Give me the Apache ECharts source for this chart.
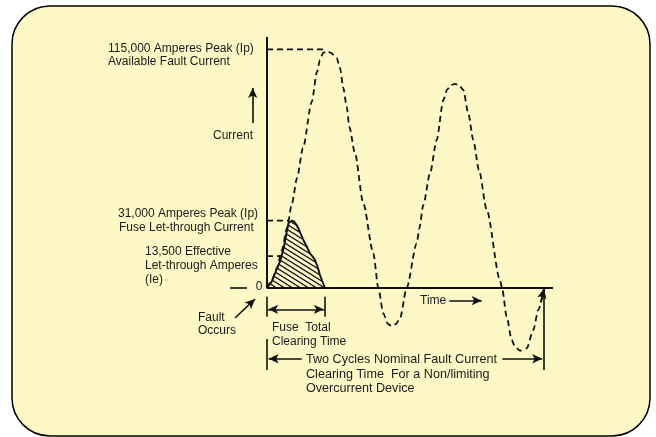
<!DOCTYPE html>
<html><head><meta charset="utf-8">
<script src="https://cdn.jsdelivr.net/npm/echarts@6/dist/echarts.min.js"></script>
<style>html,body{margin:0;padding:0;background:#fff}#c{width:656px;height:437px}</style>
</head><body><div id="c"></div>
<script>
// ---- data (time in ms, current in amperes) ----
const waveTime = [0,0.60,1.20,1.80,2.41,3.01,3.61,4.33,5.38,6.01,6.37,6.74,7.22,7.70,8.38,8.78,9.18,9.59,9.90,10.58,11.58,12.79,13.39,13.99,14.55,15.00,15.52,16.00,16.80,18.01,18.32,18.80,19.61,20.41,21.21,21.69,22.13,22.61,23.09,23.61,24.21,24.81,25.50,26.43,28.02,28.27,28.83,29.43,29.83,30.43,31.24,32.03,32.63,33.32];
const waveCurrent = [0,3860,9640,18320,28920,40980,53030,67490,89660,104130,109910,113290,114250,113290,110900,106060,96410,87400,77760,64930,40830,16730,0,-12200,-17350,-18320,-17350,-14610,0,21550,28780,40010,55290,71350,90630,95790,97860,98340,97860,95450,84220,71350,56880,37600,3860,0,-13840,-25070,-28300,-30230,-29070,-20250,-10610,0];
const letThroughTime = [0,0.57,1.08,1.56,2.04,2.37,2.59,2.97,3.25,3.57,3.97,4.37,4.81,5.17,5.53,5.77,6.13,6.37,6.74,6.98];
const letThroughCurrent = [0,3040,8200,12680,19760,27140,31330,32440,32060,30370,27000,23140,19770,16730,14940,13500,9640,6270,2410,0];
const availablePeak = 115000, availablePeakTime = 6.98;
const letThroughPeak = 32440, letThroughPeakTime = 2.53;
const effectiveCurrent = 15400, effectiveTime = 1.56;
const clearingTime = 6.98, twoCyclesTime = 33.32;
const timeMin = -6, timeMax = 34.4, currentMin = -42000, currentMax = 121000;
const labels = {
  available: ['115,000 Amperes Peak (Ip)', 'Available Fault Current'],
  current: 'Current',
  letThrough: ['31,000 Amperes Peak (Ip)', 'Fuse Let-through Current'],
  effective: ['13,500 Effective', 'Let-through Amperes', '(Ie)'],
  zero: '0',
  fault: ['Fault', 'Occurs'],
  fuse: ['Fuse  Total', 'Clearing Time'],
  time: 'Time',
  cycles: ['Two Cycles Nominal Fault Current', 'Clearing Time  For a Non/limiting', 'Overcurrent Device']
};
// annotation segments in data units [time, current]
const currentArrow = [[-1.72, 79540], [-1.72, 96410]];
const zeroDash = [[-4.45, 0], [-2.41, 0]];
const faultArrow = [[-3.85, -14460], [-1.44, -5300]];
const fuseDimLevel = -10270, fuseTickTop = -4190, fuseTickBottom = -13830;
const cyclesDimLevel = -34100, cyclesLineTop = -24590, cyclesLineBottom = -39530;
const cyclesLeftArrow = [[4.18, cyclesDimLevel], [0.20, cyclesDimLevel]];
const cyclesRightArrow = [[28.30, cyclesDimLevel], [33.10, cyclesDimLevel]];
const timeArrow = [[21.93, -6120], [25.82, -6120]];
const waveEndArrow = [[32.95, -7000], [33.32, -300]];

// ---- hatch pattern ----
const pat = document.createElement('canvas');
pat.width = 8; pat.height = 5;
const pc = pat.getContext('2d');
pc.strokeStyle = '#111'; pc.lineWidth = 1.25;
for (const dy of [-5, 0, 5]) { pc.beginPath(); pc.moveTo(-2, dy - 1.25); pc.lineTo(10, dy + 6.25); pc.stroke(); }

const ink = '#111';
const font = '12px "Liberation Sans", Arial, sans-serif';
const fontWide = '12.6px "Liberation Sans", Arial, sans-serif';
function seg(a, b, startSym, endSym) {
  return [{coord: a, symbol: startSym || 'none', symbolSize: [7, 10]}, {coord: b, symbol: endSym || 'none', symbolSize: [7, 10]}];
}
function txt(t, x, y, align, f) {
  return {type: 'text', x: x, y: y, z: 5, style: {text: t, font: f || font, fill: '#1a1a1a', align: align || 'left', verticalAlign: 'middle'}};
}

const chart = echarts.init(document.getElementById('c'), null, {renderer: 'canvas'});
chart.setOption({
  animation: false,
  backgroundColor: '#ffffff',
  grid: {left: 217.116, top: 37, right: 103, bottom: 61.88},
  xAxis: {type: 'value', min: timeMin, max: timeMax, axisLine: {show: false}, axisTick: {show: false}, axisLabel: {show: false}, splitLine: {show: false}},
  yAxis: {type: 'value', min: currentMin, max: currentMax, axisLine: {show: false}, axisTick: {show: false}, axisLabel: {show: false}, splitLine: {show: false}},
  graphic: [
    {type: 'rect', z: -10, shape: {x: 12, y: 6, width: 638, height: 430, r: 38}, style: {fill: '#FEF8C6', stroke: '#000', lineWidth: 1.5}},
    txt(labels.available[0], 108, 48.5), txt(labels.available[1], 108, 62),
    txt(labels.current, 253, 136, 'right'),
    txt(labels.letThrough[0], 118, 214), txt(labels.letThrough[1], 119, 227.5),
    txt(labels.effective[0], 145, 252), txt(labels.effective[1], 145, 265.5), txt(labels.effective[2], 145, 280),
    txt(labels.zero, 259, 287, 'center'),
    txt(labels.fault[0], 198, 318), txt(labels.fault[1], 198, 331),
    txt(labels.fuse[0], 272, 328), txt(labels.fuse[1], 272, 341.5),
    txt(labels.time, 420, 301),
    txt(labels.cycles[0], 306, 359.5, 'left', fontWide), txt(labels.cycles[1], 306, 375, 'left', fontWide), txt(labels.cycles[2], 306, 389, 'left', fontWide)
  ],
  series: [
    {type: 'line', name: 'letThrough', clip: false, symbol: 'none', z: 3,
      data: letThroughTime.map((t, i) => [t, letThroughCurrent[i]]),
      lineStyle: {color: ink, width: 1.9}, areaStyle: {color: {image: pat, repeat: 'repeat'}, opacity: 1, origin: 0}},
    {type: 'line', name: 'available', clip: false, symbol: 'none', z: 4, smooth: 0.25, smoothMonotone: 'x',
      data: waveTime.map((t, i) => [t, waveCurrent[i]]),
      lineStyle: {color: ink, width: 1.8, type: [6, 4]}},
    {type: 'line', name: 'markers', clip: false, symbol: 'none', z: 4,
      data: [[0, availablePeak], [availablePeakTime, availablePeak], null, [0, letThroughPeak], [letThroughPeakTime, letThroughPeak], null, [0, effectiveCurrent], [effectiveTime, effectiveCurrent]],
      connectNulls: false,
      lineStyle: {color: ink, width: 1.8, type: [6, 4]}},
    {type: 'line', name: 'axes', clip: false, symbol: 'none', z: 5,
      data: [[0, currentMax], [0, 0], [timeMax, 0]],
      lineStyle: {color: ink, width: 2},
      markLine: {silent: true, animation: false, label: {show: false}, symbol: ['none', 'none'],
        lineStyle: {color: ink, width: 1.6, type: 'solid'},
        emphasis: {disabled: true},
        data: [
          seg(currentArrow[0], currentArrow[1], 'none', 'arrow'),
          seg(zeroDash[0], zeroDash[1]),
          seg(faultArrow[0], faultArrow[1], 'none', 'arrow'),
          seg([0, fuseTickTop], [0, fuseTickBottom]),
          seg([clearingTime, fuseTickTop], [clearingTime, fuseTickBottom]),
          seg([0.15, fuseDimLevel], [clearingTime - 0.15, fuseDimLevel], 'arrow', 'arrow'),
          seg([0, cyclesLineTop], [0, cyclesLineBottom]),
          seg([twoCyclesTime, 0], [twoCyclesTime, cyclesLineBottom]),
          seg(cyclesLeftArrow[0], cyclesLeftArrow[1], 'none', 'arrow'),
          seg(cyclesRightArrow[0], cyclesRightArrow[1], 'none', 'arrow'),
          seg(timeArrow[0], timeArrow[1], 'none', 'arrow'),
          seg(waveEndArrow[0], waveEndArrow[1], 'none', 'arrow')
        ]}}
  ]
});
</script></body></html>
